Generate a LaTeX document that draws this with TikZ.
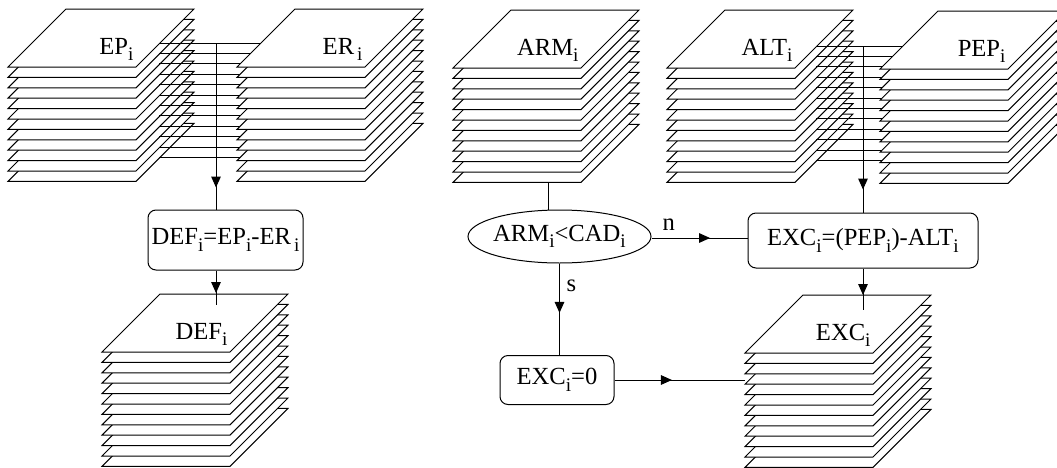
\documentclass[tikz,border=0pt]{standalone}
\usepackage{fontspec}
\setmainfont{Liberation Serif}
\usetikzlibrary{arrows.meta,shapes.geometric,decorations.markings}
\newcommand{\ix}{\raisebox{-3.3pt}{\fontsize{9.6}{10}\selectfont i}}
\tikzset{
sheet/.style={draw,fill=white},
box/.style={draw,rounded corners=4pt,inner sep=0pt},
flow/.style={postaction={decorate},decoration={markings,mark=at position #1 with {\arrow{Triangle[length=5.5pt,width=4.8pt]}}}}
}
\begin{document}
\begin{tikzpicture}[x=.5pt,y=-.5pt,line width=.5pt,font=\fontsize{12.3}{14}\selectfont]
\useasboundingbox (0,0) rectangle (1057,467);
% stacks behind the joins
\foreach \x/\y/\t/\n in {8/67/EP/ep,667/68/ALT/alt,453/68/ARM/arm,102/352/DEF/def,745/353/EXC/exc}{
\foreach \k in {11,...,0}
\filldraw[sheet] (\x,{\y+10.4*\k}) -- ++(128,0) -- ++(58,-58) -- ++(-128,0) -- cycle;
\node[anchor=base east,inner sep=0pt] (\n) at (\x+126,\y-13) {\t\ix};
}
\foreach \k in {0,...,11}{
\draw (159,{43+10.4*\k}) -- (265,{43+10.4*\k});
\draw (816,{46+10.4*\k}) -- (910,{46+10.4*\k});
}
% stacks in front
\foreach \x/\y/\t/\n in {237/67/{ER\kern1.5pt}/er,880/69/PEP/pep}{
\foreach \k in {11,...,0}
\filldraw[sheet] (\x,{\y+10.4*\k}) -- ++(128,0) -- ++(58,-58) -- ++(-128,0) -- cycle;
\node[anchor=base east,inner sep=0pt] (\n) at (\x+126,\y-13) {\t\ix};
}
\coordinate (epj) at (216,43);
\coordinate (altj) at (863,46);
\coordinate (armb) at (548,182.4);
\coordinate (deft) at (216,305);
\coordinate (exct) at (863,310);
\coordinate (excl) at (745,380);
\node[box,minimum width=77.5pt,minimum height=30pt] (defbox) at (225.5,240) {DEF\ix=EP\ix-ER\kern1.5pt\ix};
\node[box,minimum width=115pt,minimum height=27.5pt] (excbox) at (863,240.5) {EXC\ix=(PEP\ix)-ALT\ix};
\node[draw,ellipse,inner xsep=-4pt,inner ysep=0pt,minimum width=91.5pt,minimum height=26.5pt] (cmp) at (559.5,236.5) {ARM\ix<CAD\ix};
\node[box,minimum width=57pt,minimum height=24.5pt] (zero) at (557,380) {EXC\ix=0};
\draw[flow=-11pt] (epj) -- (epj |- defbox.north);
\draw[flow=-11.5pt] (altj) -- (altj |- excbox.north);
\draw[flow=-6pt] (defbox.south -| deft) -- (deft);
\draw[flow=-7.5pt] (excbox.south) -- (exct);
\draw (armb) -- (armb |- cmp.north);
\draw[flow=.61] (cmp.east |- 0,238) -- node[pos=.18,above] {n} (excbox.west |- 0,238);
\draw[flow=.54] (cmp.south) -- node[pos=.24,right] {s} (cmp.south |- zero.north);
\draw[flow=.44] (zero.east) -- (excl);
\end{tikzpicture}
\end{document}
